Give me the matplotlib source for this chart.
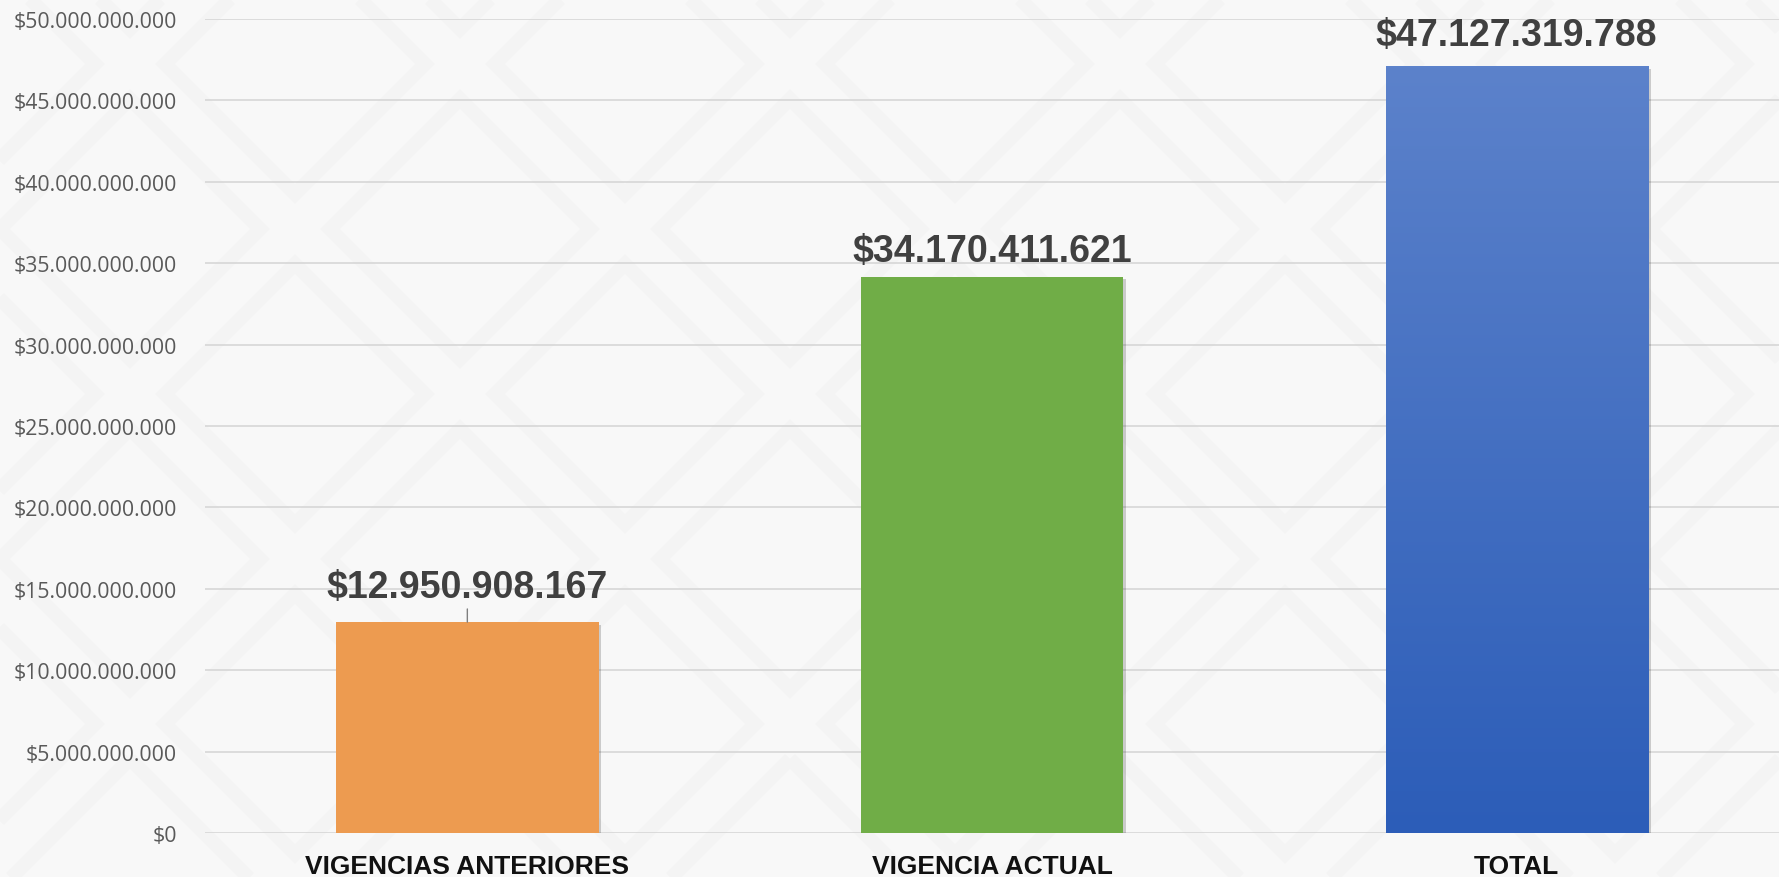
import matplotlib
matplotlib.use("Agg")
import matplotlib.pyplot as plt
import matplotlib.patheffects as pe
from matplotlib.patches import Polygon
from matplotlib.ticker import FuncFormatter
import numpy as np

categories = ["VIGENCIAS ANTERIORES", "VIGENCIA ACTUAL", "TOTAL"]
values = [12950908167, 34170411621, 47127319788]
bar_colors = ["#ED9B50", "#70AD47", "#3E6DC5"]
y_ticks = [0, 5e9, 10e9, 15e9, 20e9, 25e9, 30e9, 35e9, 40e9, 45e9, 50e9]


def pesos(v, pos=None):
    # formato colombiano: punto como separador de miles
    return "$" + f"{int(round(v)):,}".replace(",", ".")


W, H = 1779, 878
fig = plt.figure(figsize=(W / 100, H / 100), dpi=100)
fig.patch.set_facecolor("#f8f8f8")

# fondo con rombos muy tenues
bg = fig.add_axes([0, 0, 1, 1], zorder=-10)
bg.set_xlim(0, W)
bg.set_ylim(H, 0)
bg.axis("off")
step = 330
for row, cy in enumerate(range(-100, H + 300, step // 2)):
    shift = (step // 2) * (row % 2)
    for cx in range(-200 + shift, W + 300, step):
        r = 130
        bg.add_patch(Polygon([[cx, cy - r], [cx + r, cy], [cx, cy + r], [cx - r, cy]],
                             closed=True, fill=False, ec="#f4f4f4", lw=10))

ax = fig.add_axes([205 / W, 1 - 834 / H, 1574 / W, 814 / H])
ax.set_facecolor("none")

x = np.arange(len(categories))
bars = ax.bar(x, values, width=0.5, color=bar_colors, zorder=3)
for b in bars:
    b.set_path_effects([pe.SimplePatchShadow(offset=(2, -2), shadow_rgbFace="#000000", alpha=0.18),
                        pe.Normal()])

# degradado en la barra TOTAL
tot = bars[2]
grad = np.linspace(0, 1, 256).reshape(-1, 1)
cmap = matplotlib.colors.LinearSegmentedColormap.from_list("azul", ["#2C5DB8", "#5C82CB"])
im = ax.imshow(grad, cmap=cmap, origin="lower", aspect="auto", zorder=3.5,
               extent=[tot.get_x(), tot.get_x() + tot.get_width(), 0, tot.get_height()])
im.set_clip_path(tot)

ax.set_xlim(-0.5, 2.5)
ax.set_ylim(0, 50e9)
ax.set_yticks(y_ticks)
ax.yaxis.set_major_formatter(FuncFormatter(pesos))
ax.grid(axis="y", color="#d9d9d9", lw=1.3, zorder=0)
ax.set_axisbelow(True)
for s in ax.spines.values():
    s.set_visible(False)

ax.tick_params(axis="y", length=0, pad=20, labelsize=15.3, labelcolor="#595959")
ax.tick_params(axis="x", length=0, pad=15)
for t in ax.get_yticklabels():
    t.set_fontfamily("Open Sans")
ax.set_xticks(x)
ax.set_xticklabels(categories, fontsize=19, fontweight="bold", color="#111111",
                   fontfamily="Liberation Sans")

# etiquetas de datos
offsets = [25, 18.5, 22.5]
for i, v in enumerate(values):
    ax.annotate(pesos(v), xy=(x[i], v), xytext=(0, offsets[i]), textcoords="offset points",
                ha="center", va="center", fontsize=27, fontweight="bold", color="#404040",
                fontfamily="Liberation Sans", zorder=5)

# linea guia de la primera etiqueta
ax.annotate("", xy=(x[0], values[0]), xytext=(0, 9.5), textcoords="offset points",
            arrowprops=dict(arrowstyle="-", color="#7f7f7f", lw=1, shrinkA=0, shrinkB=0))

fig.savefig("out.png", dpi=100, facecolor=fig.get_facecolor())
